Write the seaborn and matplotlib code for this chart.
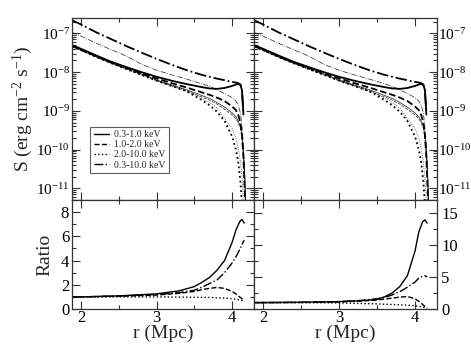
import numpy as np
import pandas as pd
import matplotlib
matplotlib.use("Agg")
import matplotlib.pyplot as plt
import seaborn as sns
from matplotlib.ticker import MultipleLocator, LogLocator, NullFormatter

# ---------------- data ----------------
r = [1.88, 2.0, 2.2, 2.4, 2.6, 2.8, 3.0, 3.2, 3.4, 3.6, 3.7, 3.8, 3.9, 4.0,
     4.05, 4.08, 4.11, 4.13, 4.15, 4.17, 4.19]

# thick curves (model A)
A_soft = [5.0e-8, 4.0e-8, 2.7e-8, 1.85e-8, 1.35e-8, 1.0e-8, 7.6e-9, 6.0e-9, 4.9e-9,
          4.1e-9, 3.8e-9, 3.7e-9, 3.9e-9, 4.4e-9, 4.8e-9, 5.0e-9, 4.7e-9, 3.5e-9,
          8.0e-10, np.nan, np.nan]
A_mid = [4.8e-8, 3.8e-8, 2.6e-8, 1.8e-8, 1.3e-8, 9.3e-9, 6.9e-9, 5.2e-9, 4.0e-9,
         3.0e-9, 2.6e-9, 2.2e-9, 1.8e-9, 1.3e-9, 1.05e-9, 8.0e-10, 5.0e-10, 2.5e-10,
         6.3e-11, 6.3e-12, 3.0e-13]
A_hard = [4.8e-8, 3.8e-8, 2.5e-8, 1.7e-8, 1.2e-8, 8.5e-9, 6.0e-9, 4.4e-9, 3.2e-9,
          1.9e-9, 1.4e-9, 9.5e-10, 5.5e-10, 2.2e-10, 1.0e-10, 5.0e-11, 1.5e-11,
          4.0e-12, 1.0e-12, np.nan, np.nan]
A_total = [2.2e-7, 1.7e-7, 1.07e-7, 7.1e-8, 4.7e-8, 3.2e-8, 2.2e-8, 1.55e-8, 1.12e-8,
           8.5e-9, 7.6e-9, 6.8e-9, 6.2e-9, 5.6e-9, 5.4e-9, 5.2e-9, 4.8e-9, 3.5e-9,
           1.0e-9, np.nan, np.nan]

# thin curves (model B)
B_soft = [4.6e-8, 3.7e-8, 2.5e-8, 1.75e-8, 1.25e-8, 9.0e-9, 6.3e-9, 4.7e-9, 3.5e-9,
          2.5e-9, 2.1e-9, 1.65e-9, 1.25e-9, 8.9e-10, 7.1e-10, 5.6e-10, 4.0e-10,
          2.5e-10, 1.0e-10, 1.6e-11, 1.0e-12]
B_mid = [4.5e-8, 3.6e-8, 2.4e-8, 1.7e-8, 1.2e-8, 8.5e-9, 6.0e-9, 4.4e-9, 3.2e-9,
         2.3e-9, 1.9e-9, 1.5e-9, 1.1e-9, 7.9e-10, 6.3e-10, 5.0e-10, 3.5e-10,
         2.0e-10, 6.0e-11, 8.0e-12, 5.0e-13]
B_hard = [4.7e-8, 3.7e-8, 2.5e-8, 1.7e-8, 1.2e-8, 8.6e-9, 6.2e-9, 4.6e-9, 3.4e-9,
          2.1e-9, 1.65e-9, 1.2e-9, 6.3e-10, 3.5e-10, 2.0e-10, 1.1e-10, 5.0e-11,
          2.0e-11, 5.0e-12, 5.0e-13, np.nan]
B_total = [1.07e-7, 8.5e-8, 5.6e-8, 3.8e-8, 2.6e-8, 1.6e-8, 1.12e-8, 8.5e-9, 6.6e-9,
           5.0e-9, 4.3e-9, 3.5e-9, 2.8e-9, 2.2e-9, 1.8e-9, 1.4e-9, 8.9e-10,
           4.0e-10, 1.25e-10, 1.6e-11, 1.0e-12]

# ratio panels
r_ratio = [1.88, 2.0, 2.5, 3.0, 3.3, 3.5, 3.6, 3.7, 3.8, 3.9, 4.0, 4.05, 4.1, 4.13, 4.16]
ratio_L_soft = [1.0, 1.0, 1.08, 1.25, 1.5, 1.85, 2.2, 2.6, 3.2, 4.0, 5.5, 6.5, 7.2, 7.4, 7.1]
ratio_L_mid = [1.0, 1.0, 1.05, 1.15, 1.3, 1.45, 1.6, 1.7, 1.78, 1.7, 1.45, 1.25, 1.0, 0.85, 0.7]
ratio_L_hard = [1.0, 1.0, 1.0, 1.0, 0.98, 0.97, 0.96, 0.95, 0.93, 0.9, 0.85, 0.8, 0.75, 0.7, 0.65]
ratio_L_total = [1.0, 1.0, 1.08, 1.2, 1.35, 1.55, 1.8, 2.1, 2.4, 3.0, 3.8, 4.3, 4.9, 5.3, 5.7]

ratio_R_soft = [1.0, 1.0, 1.05, 1.15, 1.3, 1.5, 1.9, 2.5, 3.5, 5.2, 9.0, 12.0, 13.6, 13.9, 13.4]
ratio_R_mid = [1.0, 1.0, 1.02, 1.1, 1.25, 1.4, 1.55, 1.7, 1.85, 1.95, 1.6, 1.2, 0.7, 0.4, 0.15]
ratio_R_hard = [1.0, 1.0, 0.98, 0.95, 0.85, 0.8, 0.75, 0.7, 0.65, 0.6, 0.5, 0.4, 0.3, 0.2, 0.1]
ratio_R_total = [1.0, 1.0, 1.05, 1.15, 1.35, 1.6, 1.8, 2.2, 2.7, 3.4, 4.2, 4.8, 5.1, 5.2, 5.0]

labels = ["0.3-1.0 keV", "1.0-2.0 keV", "2.0-10.0 keV", "0.3-10.0 keV"]
x_ticks = [2, 3, 4]

# ---------------- styling ----------------
sns.set_style("ticks")
plt.rcParams["font.family"] = ["Liberation Serif", "DejaVu Serif"]
plt.rcParams["mathtext.fontset"] = "custom"
plt.rcParams["mathtext.rm"] = "Liberation Serif"
plt.rcParams["mathtext.it"] = "Liberation Serif:italic"
plt.rcParams["mathtext.bf"] = "Liberation Serif:bold"
plt.rcParams["axes.unicode_minus"] = False

styles = ["-", "--", ":", "-."]

fig = plt.figure(figsize=(4.71, 3.64), dpi=100)
W, H = 471, 364
def box(x0, y0, x1, y1):
    return [x0 / W, 1 - y1 / H, (x1 - x0) / W, (y1 - y0) / H]

axTL = fig.add_axes(box(72, 18, 254, 200))
axTR = fig.add_axes(box(254, 18, 437, 200))
axBL = fig.add_axes(box(72, 200, 254, 309))
axBR = fig.add_axes(box(254, 200, 437, 309))

A_list = [A_soft, A_mid, A_hard, A_total]
B_list = [B_soft, B_mid, B_hard, B_total]

for ax in (axTL, axTR):
    for i, (a, b) in enumerate(zip(A_list, B_list)):
        sns.lineplot(x=r, y=b, ax=ax, color="black", linewidth=0.6,
                     linestyle=styles[i], alpha=0.75)
        sns.lineplot(x=r, y=a, ax=ax, color="black", linewidth=1.3,
                     linestyle=styles[i], label=labels[i] if ax is axTL else None)
    ax.set_yscale("log")
    ax.set_ylim(5e-12, 2.5e-7)

for ax, rat in ((axBL, [ratio_L_soft, ratio_L_mid, ratio_L_hard, ratio_L_total]),
                (axBR, [ratio_R_soft, ratio_R_mid, ratio_R_hard, ratio_R_total])):
    for i, vals in enumerate(rat):
        sns.lineplot(x=r_ratio, y=vals, ax=ax, color="black", linewidth=1.0,
                     linestyle=styles[i])

axBL.set_ylim(0, 9)
axBR.set_ylim(0, 17)
axBL.yaxis.set_major_locator(MultipleLocator(2))
axBL.yaxis.set_minor_locator(MultipleLocator(1))
axBR.yaxis.set_major_locator(MultipleLocator(5))
axBR.yaxis.set_minor_locator(MultipleLocator(2.5))

for ax in (axTL, axTR, axBL, axBR):
    ax.set_xlim(1.88, 4.29)
    ax.xaxis.set_major_locator(MultipleLocator(1))
    ax.xaxis.set_minor_locator(MultipleLocator(0.5))
    ax.tick_params(which="both", direction="in", top=True, right=True,
                   left=True, bottom=True, colors="#333333", labelcolor="black",
                   labelsize=12, width=0.8, pad=2)
    ax.tick_params(which="major", length=6)
    ax.tick_params(which="minor", length=3)
    for s in ax.spines.values():
        s.set_linewidth(0.9)
        s.set_color("#333333")
    ax.set_xlabel("")
    ax.set_ylabel("")

for ax in (axTL, axTR):
    ax.yaxis.set_major_locator(LogLocator(base=10, numticks=20))
    ax.yaxis.set_minor_locator(LogLocator(base=10, subs=np.arange(2, 10), numticks=20))
    ax.yaxis.set_minor_formatter(NullFormatter())
    ax.tick_params(axis="x", labelbottom=False)
    ax.tick_params(axis="y", labelsize=11)

axTL.tick_params(axis="y", pad=1.5)
axTR.tick_params(axis="y", labelleft=False, labelright=True, pad=1)
axBR.tick_params(axis="y", labelleft=False, labelright=True, pad=3)

axBL.set_xticks(x_ticks)
axBR.set_xticks(x_ticks)
axBL.tick_params(axis="x", pad=1)
axBR.tick_params(axis="x", pad=1)

axTL.set_ylabel("S (erg cm$^{-2}$ s$^{-1}$)", fontsize=14)
axTL.yaxis.set_label_coords(-0.205, 0.5)
axBL.set_ylabel("Ratio", fontsize=14)
axBL.yaxis.set_label_coords(-0.1, 0.5)
axBL.set_xlabel("r (Mpc)", fontsize=14, labelpad=-1)
axBR.set_xlabel("r (Mpc)", fontsize=14, labelpad=-1)

leg = axTL.legend(loc="lower left", bbox_to_anchor=(0.1, 0.148), fontsize=7,
                  frameon=True, fancybox=False, edgecolor="#333333",
                  handlelength=1.6, borderpad=0.35, labelspacing=0.12,
                  handletextpad=0.5, borderaxespad=0)
leg.get_frame().set_linewidth(0.8)
for h in leg.get_lines():
    h.set_linewidth(1.0)

fig.savefig("out.png", dpi=100)
